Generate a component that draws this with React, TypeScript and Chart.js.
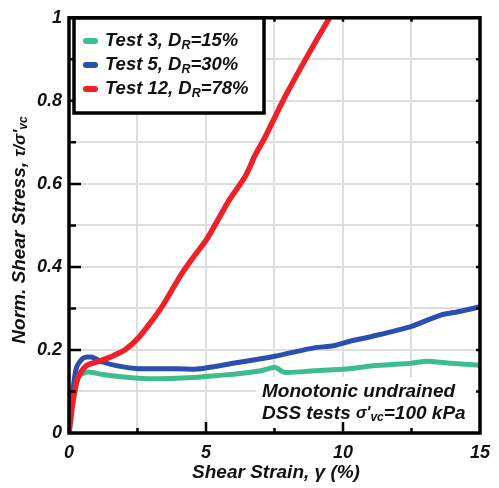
import React, { useEffect, useRef } from "react";
import { Chart, registerables } from "chart.js";

Chart.register(...registerables);

const xTickValues = [0, 5, 10, 15];
const yTickValues = [0, 0.2, 0.4, 0.6, 0.8, 1];

const test3: [number, number][] = [
  [0, 0], [0.15, 0.094], [0.39, 0.138], [0.69, 0.147], [1.22, 0.141], [2.53, 0.132],
  [3.72, 0.131], [4.67, 0.134], [5.32, 0.138], [6.09, 0.142], [7.0, 0.15], [7.3, 0.155],
  [7.52, 0.158], [7.87, 0.146], [8.94, 0.15], [10.25, 0.155], [11.08, 0.162], [12.5, 0.168],
  [13.04, 0.173], [13.93, 0.168], [15, 0.163],
];
const test5: [number, number][] = [
  [0, 0], [0.1, 0.078], [0.27, 0.157], [0.51, 0.18], [0.81, 0.183], [1.22, 0.171],
  [1.82, 0.161], [2.53, 0.155], [3.6, 0.155], [4.67, 0.154], [5.32, 0.16], [6.09, 0.169],
  [7.52, 0.185], [8.94, 0.205], [9.65, 0.21], [10.25, 0.221], [11.08, 0.233], [12.5, 0.257],
  [13.57, 0.284], [14.2, 0.292], [15, 0.304],
];
const test12: [number, number][] = [
  [0, 0], [0.15, 0.078], [0.33, 0.134], [0.63, 0.162], [1.1, 0.173], [1.58, 0.185],
  [2.06, 0.201], [2.53, 0.229], [3.0, 0.268], [3.4, 0.305], [4.07, 0.379], [4.5, 0.42],
  [5.02, 0.466], [5.45, 0.515], [5.85, 0.561], [6.45, 0.62], [6.8, 0.67], [7.16, 0.713],
  [7.87, 0.808], [8.65, 0.902], [9.48, 0.997], [9.6, 1.01],
];

const seriesNames = ["Test 3, D", "Test 5, D", "Test 12, D"];
const seriesSuffix = ["=15%", "=30%", "=78%"];
const seriesColors = ["#3dbd8e", "#2b4fae", "#ee2129"];

const FONT = "'Liberation Sans', Arial, sans-serif";

type Seg = { t: string; size: number; dy?: number };

function richWidth(ctx: CanvasRenderingContext2D, segs: Seg[]) {
  let w = 0;
  for (const s of segs) {
    ctx.font = `italic bold ${s.size}px ${FONT}`;
    w += ctx.measureText(s.t).width;
  }
  return w;
}

function drawRich(ctx: CanvasRenderingContext2D, segs: Seg[], x: number, y: number) {
  let cx = x;
  ctx.textBaseline = "middle";
  ctx.textAlign = "left";
  for (const s of segs) {
    ctx.font = `italic bold ${s.size}px ${FONT}`;
    ctx.fillText(s.t, cx, y + (s.dy || 0));
    cx += ctx.measureText(s.t).width;
  }
  return cx - x;
}

const decorPlugin = {
  id: "decor",
  beforeDatasetsDraw(chart: any) {
    const ctx: CanvasRenderingContext2D = chart.ctx;
    ctx.save();
    ctx.fillStyle = "#fff";
    ctx.fillRect(256, 377, 232, 55);
    ctx.restore();
  },
  afterDraw(chart: any) {
    const ctx: CanvasRenderingContext2D = chart.ctx;
    const { left, right, top, bottom } = chart.chartArea;
    const xs = chart.scales.x;
    const ys = chart.scales.y;
    ctx.save();
    ctx.strokeStyle = "#000";
    ctx.lineWidth = 2.5;
    ctx.beginPath();
    for (let i = 1; i < 10; i++) {
      const v = i / 10;
      const py = ys.getPixelForValue(v);
      const major = i % 2 === 0;
      ctx.moveTo(left, py);
      ctx.lineTo(left + (major ? 12 : 7), py);
      ctx.moveTo(right, py);
      ctx.lineTo(right - 4, py);
    }
    for (let i = 1; i < 6; i++) {
      const v = i * 2.5;
      const px = xs.getPixelForValue(v);
      const major = i % 2 === 0;
      ctx.moveTo(px, bottom);
      ctx.lineTo(px, bottom - (major ? 11 : 5));
      ctx.moveTo(px, top);
      ctx.lineTo(px, top + 4);
    }
    ctx.stroke();
    ctx.lineWidth = 3.5;
    ctx.strokeRect(left, top, right - left, bottom - top);

    // legend
    ctx.fillStyle = "#fff";
    ctx.fillRect(74, 18, 190, 95);
    ctx.lineWidth = 3.5;
    ctx.strokeRect(74, 18, 190, 95);
    const rowY = [41, 65, 89];
    for (let i = 0; i < 3; i++) {
      ctx.strokeStyle = seriesColors[i];
      ctx.lineWidth = 6;
      ctx.lineCap = "round";
      ctx.beginPath();
      ctx.moveTo(86, rowY[i]);
      ctx.lineTo(95, rowY[i]);
      ctx.stroke();
      ctx.fillStyle = "#111";
      drawRich(ctx, [
        { t: seriesNames[i], size: 18.5 },
        { t: "R", size: 12.5, dy: 5 },
        { t: seriesSuffix[i], size: 18.5 },
      ], 105, rowY[i]);
    }

    // annotation
    ctx.fillStyle = "#111";
    drawRich(ctx, [{ t: "Monotonic undrained", size: 19 }], 262, 392);
    drawRich(ctx, [
      { t: "DSS tests ", size: 19 },
      { t: "σ'", size: 16 },
      { t: "vc", size: 12, dy: 4 },
      { t: "=100 kPa", size: 19 },
    ], 262, 414);

    // x title
    const xt: Seg[] = [{ t: "Shear Strain, γ (%)", size: 19 }];
    const xw = richWidth(ctx, xt);
    drawRich(ctx, xt, 276 - xw / 2, 473);

    // y title
    const yt: Seg[] = [
      { t: "Norm. Shear Stress, ", size: 19 },
      { t: "τ/σ'", size: 17 },
      { t: "vc", size: 12, dy: 4 },
    ];
    const yw = richWidth(ctx, yt);
    ctx.translate(20, 230);
    ctx.rotate(-Math.PI / 2);
    drawRich(ctx, yt, -yw / 2, 0);
    ctx.restore();
  },
};

export default function App() {
  const ref = useRef<HTMLCanvasElement | null>(null);
  useEffect(() => {
    document.body.style.margin = "0";
    const canvas = ref.current!;
    const mk = (d: [number, number][], c: string, order: number, w: number) => ({
      data: d.map(([x, y]) => ({ x, y })),
      borderColor: c,
      backgroundColor: c,
      borderWidth: w,
      pointRadius: 0,
      tension: 0.25,
      order,
      borderCapStyle: "round" as const,
      borderJoinStyle: "round" as const,
    });
    const chart = new Chart(canvas, {
      type: "line",
      data: {
        datasets: [
          mk(test3, seriesColors[0], 3, 5),
          mk(test5, seriesColors[1], 2, 5),
          mk(test12, seriesColors[2], 1, 5.5),
        ],
      },
      options: {
        animation: false,
        responsive: false,
        devicePixelRatio: 1,
        layout: { padding: { top: 12, right: 9, left: 0, bottom: 0 } },
        plugins: { legend: { display: false }, tooltip: { enabled: false } },
        scales: {
          x: {
            type: "linear",
            min: 0,
            max: 15,
            border: { display: false },
            grid: { color: "#dedede", lineWidth: 2, drawTicks: false },
            afterBuildTicks: (s: any) => {
              s.ticks = [0, 2.5, 5, 7.5, 10, 12.5, 15].map((v) => ({ value: v }));
            },
            ticks: {
              autoSkip: false,
              maxRotation: 0,
              padding: 9,
              color: "#111",
              font: { family: FONT, size: 18, style: "italic", weight: "bold" },
              callback: (v: any) => (xTickValues.includes(Number(v)) ? String(v) : ""),
            },
            afterFit: (s: any) => { s.height = 55; },
          },
          y: {
            type: "linear",
            min: 0,
            max: 1,
            border: { display: false },
            grid: { color: "#dedede", lineWidth: 2, drawTicks: false },
            afterBuildTicks: (s: any) => {
              s.ticks = [0, 0.1, 0.2, 0.3, 0.4, 0.5, 0.6, 0.7, 0.8, 0.9, 1].map((v) => ({ value: v }));
            },
            ticks: {
              autoSkip: false,
              padding: 7,
              color: "#111",
              font: { family: FONT, size: 18, style: "italic", weight: "bold" },
              callback: (v: any) => {
                const n = Math.round(Number(v) * 10) / 10;
                const m = yTickValues.find((t) => Math.abs(t - n) < 1e-6);
                if (m === undefined) return "";
                return m === 0 ? "0" : m === 1 ? "1" : m.toFixed(1);
              },
            },
            afterFit: (s: any) => { s.width = 69; },
          },
        },
      },
      plugins: [decorPlugin],
    });
    return () => chart.destroy();
  }, []);
  return <canvas ref={ref} width={499} height={488} style={{ display: "block" }} />;
}
